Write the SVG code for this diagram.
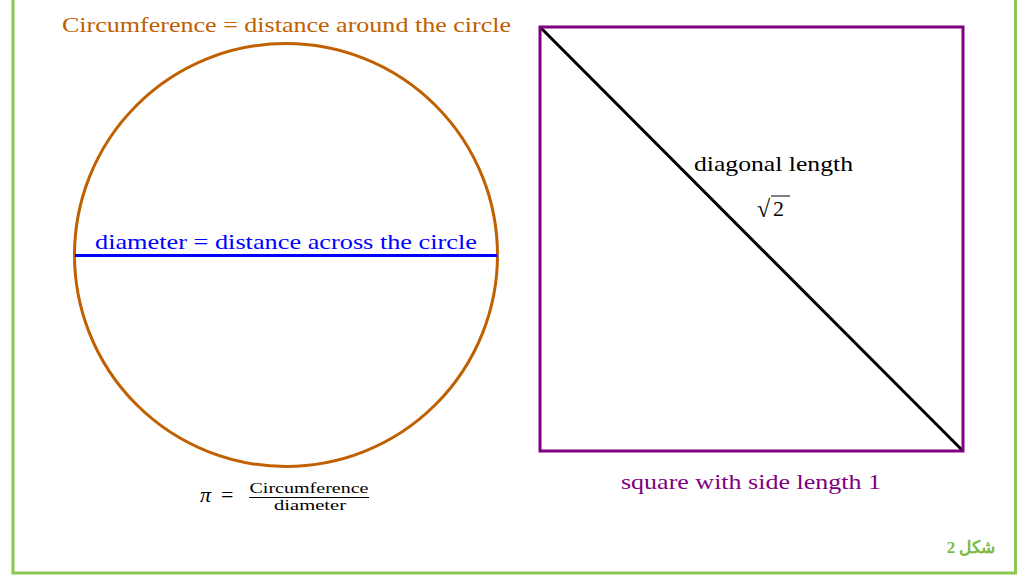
<svg xmlns="http://www.w3.org/2000/svg" width="1033" height="576" viewBox="0 0 1033 576">
<style>
text{font-family:"Liberation Serif","DejaVu Serif",serif;}
.t{font-size:22px;}
.frame{fill:none;stroke:#8cc751;stroke-width:3;}
</style>
<rect width="1033" height="576" fill="#ffffff"/>
<polyline class="frame" points="13,0 13,573 1015.5,573 1015.5,0"/>
<g id="circle-node">
<circle cx="286" cy="255" r="211.5" fill="none" stroke="#c06000" stroke-width="3"/>
<text class="t" x="62" y="32" fill="#c06000" textLength="449" lengthAdjust="spacingAndGlyphs">Circumference = distance around the circle</text>
</g>
<g id="connectors">
<line x1="75" y1="255.5" x2="497" y2="255.5" stroke="#0000ff" stroke-width="3"/>
<line x1="540" y1="27" x2="963" y2="451" stroke="#000000" stroke-width="3"/>
</g>
<g id="diameter-label">
<text class="t" x="95" y="249" fill="#0000ff" textLength="382" lengthAdjust="spacingAndGlyphs">diameter = distance across the circle</text>
</g>
<g id="square-node">
<rect x="540" y="27" width="423" height="424" fill="none" stroke="#800080" stroke-width="3"/>
<text class="t" x="621" y="489" fill="#800080" textLength="260" lengthAdjust="spacingAndGlyphs">square with side length 1</text>
</g>
<g id="diagonal-label">
<text class="t" x="694" y="171" fill="#000000" textLength="159" lengthAdjust="spacingAndGlyphs">diagonal length</text>
<text x="757" y="217" font-size="24" fill="#000000">√</text>
<line x1="771" y1="196" x2="790" y2="196" stroke="#000" stroke-width="1"/>
<text class="t" x="773" y="216" fill="#000000">2</text>
</g>
<g id="pi-formula">
<text x="200" y="502" font-size="22" font-style="italic" fill="#000">π</text>
<text x="221" y="502" font-size="22" fill="#000">=</text>
<text x="309" y="493" font-size="15.5" fill="#000" text-anchor="middle" textLength="119" lengthAdjust="spacingAndGlyphs">Circumference</text>
<line x1="249" y1="497.5" x2="369" y2="497.5" stroke="#000" stroke-width="1"/>
<text x="310" y="510" font-size="15.5" fill="#000" text-anchor="middle" textLength="72" lengthAdjust="spacingAndGlyphs">diameter</text>
</g>
<g id="caption">
<text x="971" y="553" font-family="'Noto Sans','DejaVu Sans',sans-serif" font-weight="bold" font-size="17" fill="#7dbb42" text-anchor="middle">شكل 2</text>
</g>
</svg>
